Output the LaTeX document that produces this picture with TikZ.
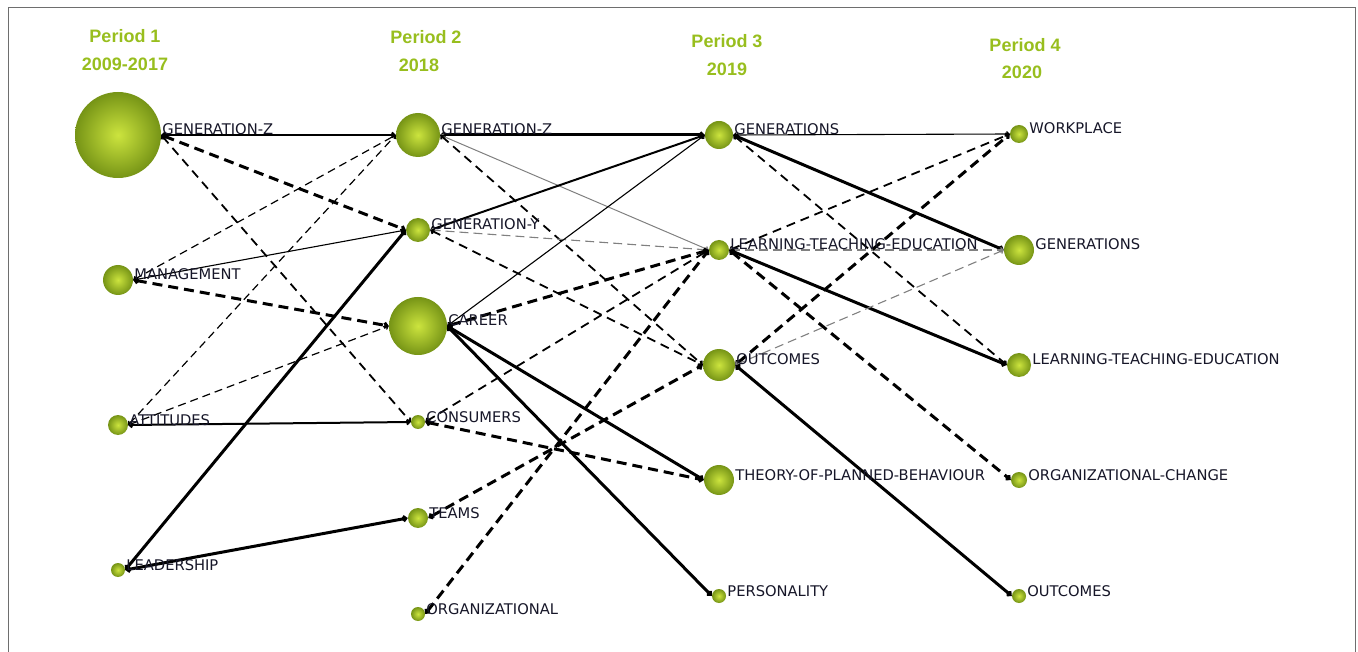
\documentclass[tikz,border=0pt]{standalone}
\usepackage{fontspec}
\setmainfont{DejaVu Sans}
\newfontfamily\headfont{Liberation Sans}
\usepackage{tikz}
\usetikzlibrary{arrows.meta}

\definecolor{ballin}{RGB}{204,228,62}
\definecolor{ballout}{RGB}{118,148,22}
\definecolor{perioc}{RGB}{152,190,30}
\definecolor{lbltext}{RGB}{22,22,40}
\definecolor{framec}{RGB}{110,110,110}

\tikzset{
  topic/.style={circle,draw=none,inner sep=0pt,inner color=ballin,outer color=ballout},
  lbl/.style={anchor=base west,inner sep=0pt,xshift=1pt,text=lbltext,font=\fontsize{14.7}{16}\selectfont},
  period/.style={text=perioc,font=\headfont\bfseries\fontsize{18}{20}\selectfont},
  lnk/.style={{Straight Barb[length=2.5pt,width=5pt]}-{Straight Barb[length=2.5pt,width=5pt]},black},
  weak/.style={lnk,line width=1.1pt},
  mid/.style={lnk,line width=2pt},
  strong/.style={lnk,line width=3pt},
  weakdash/.style={lnk,line width=1.2pt,dash pattern=on 8pt off 5pt},
  middash/.style={lnk,line width=1.8pt,dash pattern=on 9pt off 6pt},
  strongdash/.style={lnk,line width=3pt,dash pattern=on 10pt off 6pt},
  greyline/.style={lnk,line width=1pt,draw=gray},
  greydash/.style={lnk,line width=1.1pt,draw=gray,dash pattern=on 9pt off 5pt},
}

\begin{document}
\begin{tikzpicture}[x=1pt,y=-1pt]
\useasboundingbox (0,0) rectangle (1358,652);
\draw[framec,line width=1pt] (8,652) -- (8,8) -- (1355,8) -- (1355,652);

% period headings
\node[period] (h1) at (125,36) {Period 1};
\node[period] (y1) at (125,64) {2009-2017};
\node[period] (h2) at (426,37) {Period 2};
\node[period] (y2) at (419,65) {2018};
\node[period] (h3) at (727,41) {Period 3};
\node[period] (y3) at (727,69) {2019};
\node[period] (h4) at (1025,45) {Period 4};
\node[period] (y4) at (1022,72) {2020};

% period 1
\node[topic,minimum size=86pt] (a1) at (118,135) {};
\node[topic,minimum size=30pt] (a2) at (118,280) {};
\node[topic,minimum size=20pt] (a3) at (118,425) {};
\node[topic,minimum size=14pt] (a4) at (118,570) {};

% period 2
\node[topic,minimum size=44pt] (b1) at (418,135) {};
\node[topic,minimum size=24pt] (b2) at (418,230) {};
\node[topic,minimum size=58pt] (b3) at (418,326) {};
\node[topic,minimum size=14pt] (b4) at (418,422) {};
\node[topic,minimum size=20pt] (b5) at (418,518) {};
\node[topic,minimum size=14pt] (b6) at (418,614) {};

% period 3
\node[topic,minimum size=28pt] (c1) at (719,135) {};
\node[topic,minimum size=20pt] (c2) at (719,250) {};
\node[topic,minimum size=32pt] (c3) at (719,365) {};
\node[topic,minimum size=30pt] (c4) at (719,480) {};
\node[topic,minimum size=14pt] (c5) at (719,596) {};

% period 4
\node[topic,minimum size=18pt] (d1) at (1019,134) {};
\node[topic,minimum size=30pt] (d2) at (1019,250) {};
\node[topic,minimum size=24pt] (d3) at (1019,365) {};
\node[topic,minimum size=16pt] (d4) at (1019,480) {};
\node[topic,minimum size=14pt] (d5) at (1019,596) {};

% links 1 -> 2
\draw[mid] (a1.east) -- (b1.west);
\draw[strongdash] (a1.east) -- (b2.west);
\draw[middash] (a1.east) -- (b4.west);
\draw[weakdash] (a2.east) -- (b1.west);
\draw[weak] (a2.east) -- (b2.west);
\draw[strongdash] (a2.east) -- (b3.west);
\draw[weakdash] (a3.east) -- (b1.west);
\draw[weakdash] (a3.east) -- (b3.west);
\draw[mid] (a3.east) -- (b4.west);
\draw[strong] (a4.east) -- (b2.west);
\draw[strong] (a4.east) -- (b5.west);

% links 2 -> 3
\draw[strong] (b1.east) -- (c1.west);
\draw[greyline] (b1.east) -- (c2.west);
\draw[middash] (b1.east) -- (c3.west);
\draw[mid] (b2.east) -- (c1.west);
\draw[greydash] (b2.east) -- (c2.west);
\draw[middash] (b2.east) -- (c3.west);
\draw[weak] (b3.east) -- (c1.west);
\draw[strongdash] (b3.east) -- (c2.west);
\draw[strong] (b3.east) -- (c4.west);
\draw[strong] (b3.east) -- (c5.west);
\draw[middash] (b4.east) -- (c2.west);
\draw[strongdash] (b4.east) -- (c4.west);
\draw[strongdash] (b5.east) -- (c3.west);
\draw[strongdash] (b6.east) -- (c2.west);

% links 3 -> 4
\draw[weak] (c1.east) -- (d1.west);
\draw[strong] (c1.east) -- (d2.west);
\draw[middash] (c1.east) -- (d3.west);
\draw[middash] (c2.east) -- (d1.west);
\draw[greydash] (c2.east) -- (d2.west);
\draw[strong] (c2.east) -- (d3.west);
\draw[strongdash] (c2.east) -- (d4.west);
\draw[strongdash] (c3.east) -- (d1.west);
\draw[greydash] (c3.east) -- (d2.west);
\draw[strong] (c3.east) -- (d5.west);

% labels
\node[lbl] (a1t) at (a1.east) {GENERATION-Z};
\node[lbl] (a2t) at (a2.east) {MANAGEMENT};
\node[lbl] (a3t) at (a3.east) {ATTITUDES};
\node[lbl] (a4t) at (a4.east) {LEADERSHIP};
\node[lbl] (b1t) at (b1.east) {GENERATION-Z};
\node[lbl] (b2t) at (b2.east) {GENERATION-Y};
\node[lbl] (b3t) at (b3.east) {CAREER};
\node[lbl] (b4t) at (b4.east) {CONSUMERS};
\node[lbl] (b5t) at (b5.east) {TEAMS};
\node[lbl] (b6t) at (b6.east) {ORGANIZATIONAL};
\node[lbl] (c1t) at (c1.east) {GENERATIONS};
\node[lbl] (c2t) at (c2.east) {LEARNING-TEACHING-EDUCATION};
\node[lbl] (c3t) at (c3.east) {OUTCOMES};
\node[lbl] (c4t) at (c4.east) {THEORY-OF-PLANNED-BEHAVIOUR};
\node[lbl] (c5t) at (c5.east) {PERSONALITY};
\node[lbl] (d1t) at (d1.east) {WORKPLACE};
\node[lbl] (d2t) at (d2.east) {GENERATIONS};
\node[lbl] (d3t) at (d3.east) {LEARNING-TEACHING-EDUCATION};
\node[lbl] (d4t) at (d4.east) {ORGANIZATIONAL-CHANGE};
\node[lbl] (d5t) at (d5.east) {OUTCOMES};
\end{tikzpicture}
\end{document}
